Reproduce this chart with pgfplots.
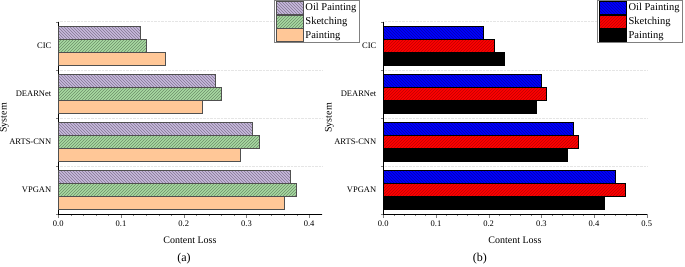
\documentclass[border=0pt]{standalone}
\usepackage{fontspec}
\setmainfont{Liberation Serif}
\usepackage{pgfplots}
\pgfplotsset{compat=1.18}
\usetikzlibrary{patterns}
\definecolor{lav}{HTML}{C8B9DE}
\definecolor{grn}{HTML}{A8DBA2}
\definecolor{pch}{HTML}{FFC797}
\definecolor{edge}{HTML}{505050}

\pgfplotsset{
 panel/.style={
  xbar, scale only axis, width=263.4pt, height=192.3pt, clip=false,
  axis x line*=bottom, axis y line*=left,
  xmin=0, ymin=-0.5, ymax=3.5,
  ytick={0,1,2,3}, yticklabels={VPGAN,ARTS-CNN,DEARNet,CIC},
  major y tick style={draw=none},
  minor ytick={-0.5,0.5,1.5,2.5,3.5},
  yminorgrids, minor y grid style={black!10, densely dotted, line width=0.5pt},
  xtick distance=0.1, minor x tick num=4,
  tick align=outside,
  major tick length=3.5pt, minor tick length=2.2pt,
  scaled x ticks=false,
  xticklabel style={/pgf/number format/.cd, fixed, fixed zerofill, precision=1},
  /pgf/number format/assume math mode=true,
  tick label style={font=\fontsize{8.5}{10}\selectfont},
  label style={font=\fontsize{10}{12}\selectfont},
  xlabel={Content Loss}, ylabel={System},
  xlabel style={at={(axis description cs:0.5,-0.135)}, anchor=center},
  ylabel style={at={(axis description cs:-0.205,0.5)}, anchor=center},
  bar width=0.2667,
  legend cell align=left,
  legend style={font=\fontsize{10.5}{12}\selectfont, draw=gray, line width=0.8pt,
     inner xsep=1pt, inner ysep=0.5pt, row sep=0pt, anchor=north east,
     /tikz/every even column/.append style={column sep=1pt}},
  reverse legend,
  legend image code/.code={\draw[#1, line width=0.8pt] (0pt,-6.5pt) rectangle (27pt,6.5pt);},
 }
}

\begin{document}
\begin{tikzpicture}
\path[use as bounding box] (0,0) rectangle (685pt,266pt);

\begin{axis}[panel, at={(58.3pt,52pt)}, anchor=south west, xmax=0.42,
  legend style={at={(axis description cs:1.145,1.113)}}]
\addplot[fill=pch, draw=edge, line width=0.6pt, bar shift=-0.2667]
  coordinates {(0.36,0) (0.29,1) (0.23,2) (0.17,3)};
\addlegendentry{Painting}
\addplot[fill=grn, draw=edge, line width=0.6pt, bar shift=0,
  postaction={pattern=north east lines, pattern color=grn!65!black}]
  coordinates {(0.38,0) (0.32,1) (0.26,2) (0.14,3)};
\addlegendentry{Sketching}
\addplot[fill=lav, draw=edge, line width=0.6pt, bar shift=0.2667,
  postaction={pattern=north west lines, pattern color=lav!65!black}]
  coordinates {(0.37,0) (0.31,1) (0.25,2) (0.13,3)};
\addlegendentry{Oil Painting}
\node[font=\fontsize{12}{14}\selectfont] at (axis description cs:0.477,-0.234) {(a)};
\end{axis}

\begin{axis}[panel, at={(383.3pt,52pt)}, anchor=south west, xmax=0.5,
  legend style={at={(axis description cs:1.138,1.113)}}]
\addplot[fill=black, draw=black, line width=0.6pt, bar shift=-0.2667]
  coordinates {(0.42,0) (0.35,1) (0.29,2) (0.23,3)};
\addlegendentry{Painting}
\addplot[fill=red, draw=black, line width=0.6pt, bar shift=0,
  postaction={pattern=north east lines, pattern color=red!75!black}]
  coordinates {(0.46,0) (0.37,1) (0.31,2) (0.21,3)};
\addlegendentry{Sketching}
\addplot[fill=blue, draw=black, line width=0.6pt, bar shift=0.2667,
  postaction={pattern=north west lines, pattern color=blue!70!black}]
  coordinates {(0.44,0) (0.36,1) (0.30,2) (0.19,3)};
\addlegendentry{Oil Painting}
\node[font=\fontsize{12}{14}\selectfont] at (axis description cs:0.367,-0.234) {(b)};
\end{axis}
\end{tikzpicture}
\end{document}
